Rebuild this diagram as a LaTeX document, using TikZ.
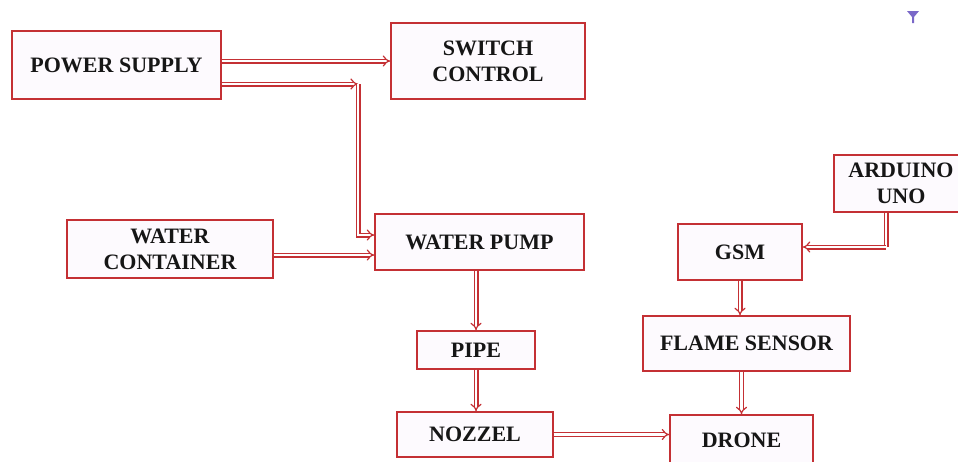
\documentclass[tikz,border=0pt]{standalone}
\usepackage{fontspec}
\setmainfont{Liberation Serif}
\usetikzlibrary{arrows.meta}
\definecolor{boxred}{RGB}{196,48,52}
\definecolor{boxfill}{RGB}{253,250,254}
\definecolor{txt}{RGB}{22,22,22}
\definecolor{tri}{RGB}{122,104,200}
\tikzset{
  blk/.style={draw=boxred, line width=1.4pt, fill=boxfill, rectangle, inner sep=0pt,
    align=center, text=txt, font=\fontsize{22}{26}\selectfont\bfseries},
  arr/.style={draw=boxred, line width=1.2pt, double=white, double distance=2.6pt, -{Implies}},
  seg/.style={draw=boxred, line width=1.2pt, double=white, double distance=2.6pt}
}
\begin{document}
\begin{tikzpicture}[x=1pt,y=-1pt]
\useasboundingbox (0,0) rectangle (958,461);
\fill[white] (0,0) rectangle (958,461);

\node[blk, minimum width=209pt, minimum height=68pt] (ps) at (116.5,65) {POWER SUPPLY};
\node[blk, minimum width=194pt, minimum height=76pt] (sw) at (488,61) {SWITCH\\CONTROL};
\node[blk, minimum width=206pt, minimum height=58pt] (wc) at (170,249) {WATER\\CONTAINER};
\node[blk, minimum width=209pt, minimum height=56pt] (wp) at (479.5,242) {WATER PUMP};
\node[blk, minimum width=118pt, minimum height=38pt] (pipe) at (476,350) {PIPE};
\node[blk, minimum width=156pt, minimum height=45pt] (noz) at (475,434.5) {NOZZEL};
\node[blk, minimum width=143pt, minimum height=50pt] (drone) at (741.5,440) {DRONE};
\node[blk, minimum width=207pt, minimum height=55pt] (flame) at (746.5,343.5) {FLAME SENSOR};
\node[blk, minimum width=124pt, minimum height=56pt] (gsm) at (740,252) {GSM};
\node[blk, minimum width=134pt, minimum height=57pt] (ard) at (901,183.5) {ARDUINO\\UNO};

\coordinate (c1) at (358,84);
\coordinate (ac) at (886,247);

\draw[arr] (ps.east |- sw.west) -- (sw.west);
\draw[arr] (ps.east |- c1) -- (c1);
\draw[arr] (c1) |- ([yshift=7pt]wp.west);
\draw[arr] ([yshift=-6pt]wc.east) -- ([yshift=-6pt]wc.east -| wp.west);
\draw[arr] (wp.south -| pipe) -- (pipe.north);
\draw[arr] (pipe.south) -- (noz.north -| pipe);
\draw[arr] (noz.east) -- (drone.west |- noz.east);
\draw[arr] (gsm.south) -- (flame.north -| gsm);
\draw[arr] (flame.south -| drone) -- (drone.north);
\draw[seg] (ard.south -| ac) -- (ac);
\draw[arr] (ac) -- (gsm.east |- ac);

\fill[tri] (907,11) -- (919,11) -- (914,17) -- (914,23) -- (912,23) -- (912,17) -- cycle;
\end{tikzpicture}
\end{document}
